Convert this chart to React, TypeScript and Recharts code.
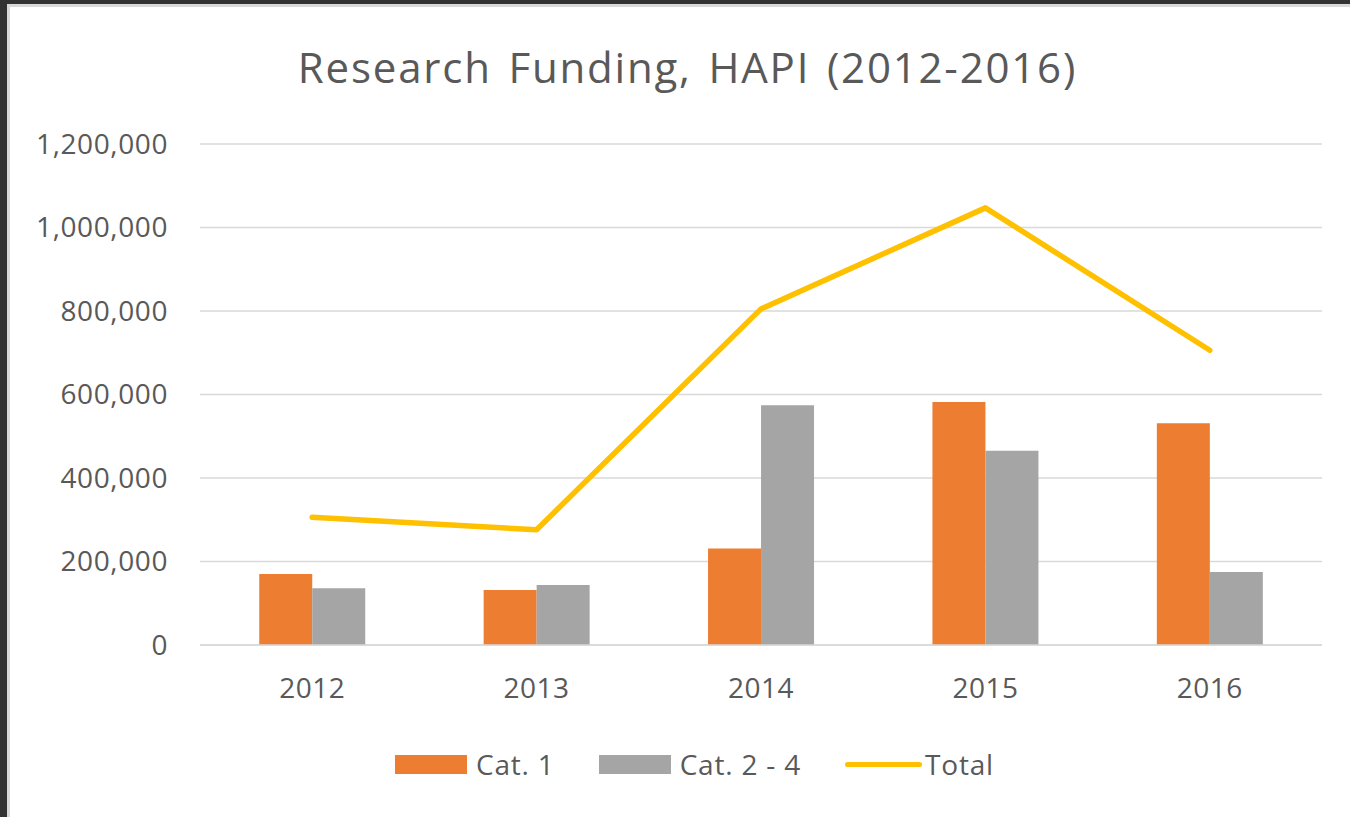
import { Bar, CartesianGrid, ComposedChart, Line, XAxis, YAxis } from 'recharts'

const years = ['2012', '2013', '2014', '2015', '2016']
const cat1 = [170000, 132000, 231000, 582000, 531000]
const cat2to4 = [136000, 144000, 574000, 465000, 175000]
const total = [306000, 276000, 805000, 1047000, 706000]
const yTicks = [0, 200000, 400000, 600000, 800000, 1000000, 1200000]

const series = [
  { key: 'cat1', name: 'Cat. 1', color: '#ED7D31', kind: 'bar' },
  { key: 'cat2', name: 'Cat. 2 - 4', color: '#A5A5A5', kind: 'bar' },
  { key: 'total', name: 'Total', color: '#FFC000', kind: 'line' },
]

const data = years.map((year, i) => ({
  year,
  cat1: cat1[i],
  cat2: cat2to4[i],
  total: total[i],
}))

const FONT = '"Open Sans", "Liberation Sans", sans-serif'
const TEXT = '#595959'
const GRID = '#d9d9d9'

function LegendRow() {
  return (
    <div
      style={{
        position: 'absolute',
        left: 395,
        top: 745,
        display: 'flex',
        alignItems: 'center',
        fontFamily: FONT,
        fontSize: 28,
        letterSpacing: 0.8,
        color: TEXT,
        lineHeight: '38px',
      }}
    >
      {series.map((s) => (
        <div key={s.key} style={{ display: 'flex', alignItems: 'center', marginRight: 44 }}>
          {s.kind === 'bar' ? (
            <div style={{ width: 72, height: 19, background: s.color, marginRight: 9 }} />
          ) : (
            <div
              style={{ width: 77, height: 5, borderRadius: 3, background: s.color, marginRight: 3 }}
            />
          )}
          <span>{s.name}</span>
        </div>
      ))}
    </div>
  )
}

export default function App() {
  return (
    <div
      style={{
        position: 'absolute',
        left: 0,
        top: 0,
        width: 1350,
        height: 817,
        background: '#333',
        overflow: 'hidden',
      }}
    >
      <div
        style={{
          position: 'absolute',
          left: 7,
          top: 4,
          right: 0,
          bottom: 0,
          background: '#fff',
          borderLeft: '3px solid #d9d9d9',
          borderTop: '3px solid #d9d9d9',
        }}
      />
      <div
        style={{
          position: 'absolute',
          left: 0,
          width: 1375,
          top: 46,
          textAlign: 'center',
          fontFamily: FONT,
          fontSize: 42,
          letterSpacing: 1.8,
          wordSpacing: 4,
          lineHeight: '42px',
          color: TEXT,
        }}
      >
        Research Funding, HAPI (2012-2016)
      </div>
      <div style={{ position: 'absolute', left: 0, top: 0 }}>
        <ComposedChart
          width={1350}
          height={817}
          data={data}
          margin={{ top: 144, right: 28, bottom: 112, left: 10 }}
          barCategoryGap="26.4%"
          barGap={0}
        >
          <CartesianGrid stroke={GRID} strokeWidth={1.6} vertical={false} />
          <XAxis
            dataKey="year"
            height={60}
            tick={{ fill: TEXT, fontSize: 28, fontFamily: FONT, letterSpacing: 0.5 }}
            tickLine={false}
            tickSize={0}
            tickMargin={33}
            axisLine={{ stroke: GRID, strokeWidth: 1.6 }}
          />
          <YAxis
            width={190}
            domain={[0, 1200000]}
            ticks={yTicks}
            interval={0}
            tick={{ fill: TEXT, fontSize: 28, fontFamily: FONT, letterSpacing: 0.6 }}
            tickLine={false}
            tickSize={0}
            tickMargin={32}
            axisLine={false}
            tickFormatter={(v) => Number(v).toLocaleString('en-US')}
          />
          <Bar dataKey="cat1" name="Cat. 1" fill="#ED7D31" isAnimationActive={false} />
          <Bar dataKey="cat2" name="Cat. 2 - 4" fill="#A5A5A5" isAnimationActive={false} />
          <Line
            type="linear"
            dataKey="total"
            name="Total"
            stroke="#FFC000"
            strokeWidth={5.5}
            strokeLinecap="round"
            strokeLinejoin="round"
            dot={false}
            activeDot={false}
            isAnimationActive={false}
          />
        </ComposedChart>
      </div>
      <LegendRow />
    </div>
  )
}
